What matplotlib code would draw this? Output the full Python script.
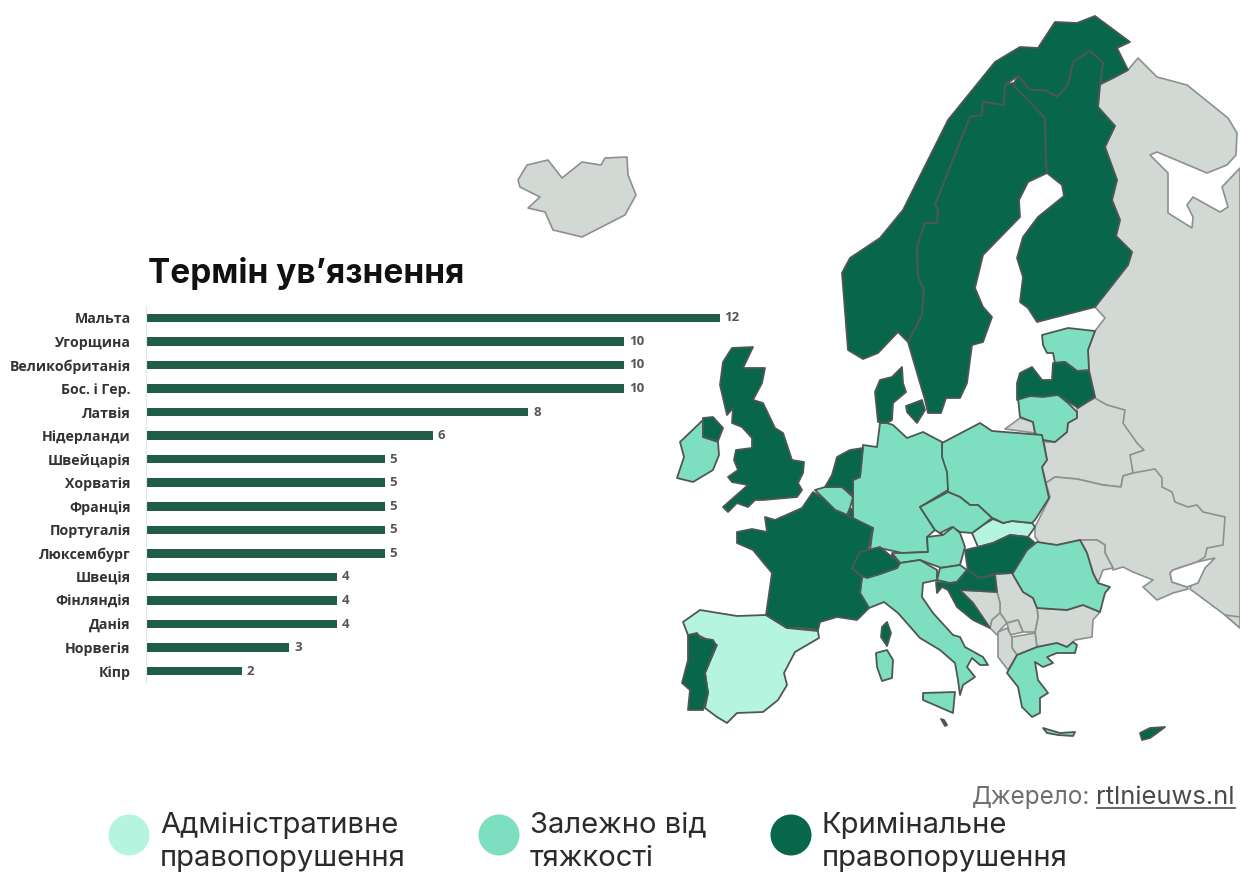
import matplotlib
matplotlib.use("Agg")
from matplotlib import pyplot as plt
from matplotlib.patches import Polygon, Circle

########################################################################################################################
# Bar data
countries = ["Мальта", "Угорщина", "Великобританія", "Бос. і Гер.", "Латвія", "Нідерланди", "Швейцарія", "Хорватія",
             "Франція", "Португалія", "Люксембург", "Швеція", "Фінляндія", "Данія", "Норвегія", "Кіпр"]
years = [12, 10, 10, 10, 8, 6, 5, 5, 5, 5, 5, 4, 4, 4, 3, 2]

########################################################################################################################
# Map outlines (pixels)
russia = [(1138,58),(1157,77),(1187,85),(1228,118),(1237,133),(1236,155),(1227,165),(1207,173),(1157,152),(1150,155),
          (1168,173),(1168,213),(1192,228),(1193,217),(1187,205),(1193,197),(1220,212),(1228,207),(1222,187),(1240,168),
          (1240,628),(1225,615),(1190,589),(1200,560),(1100,500),(1095,397),(1089,370),(1088,350),(1095,331),(1105,318),
          (1095,307),(1128,265),(1132,252),(1116,236),(1120,220),(1112,200),(1117,180),(1105,147),(1115,126),(1098,107),
          (1100,85),(1128,70)]
turkey = [(1225,615),(1240,617),(1240,628)]
belarus = [(1095,398),(1107,405),(1125,410),(1123,423),(1137,443),(1144,450),(1130,455),(1133,473),(1123,476),(1121,487),
           (1103,485),(1077,479),(1055,477),(1046,483),(1042,467),(1047,460),(1044,442),(1055,442),(1067,432),(1068,423),
           (1077,417),(1077,407)]
ukraine = [(1046,483),(1055,477),(1077,479),(1103,485),(1121,487),(1123,476),(1133,473),(1155,469),(1162,478),(1162,487),
           (1172,492),(1175,502),(1188,507),(1197,505),(1203,512),(1225,517),(1223,545),(1207,548),(1205,557),(1197,562),
           (1173,570),(1170,573),(1172,582),(1187,587),(1188,589),(1173,593),(1157,600),(1143,587),(1153,580),(1133,572),
           (1123,567),(1113,570),(1113,568),(1105,553),(1105,545),(1097,540),(1080,540),(1057,545),(1040,543),(1035,537),
           (1035,527),(1050,497)]
moldova = [(1080,540),(1097,540),(1105,545),(1105,553),(1113,568),(1103,570),(1098,583),(1093,573),(1087,553)]
azov = [(1170,573),(1172,582),(1187,587),(1198,583),(1205,568),(1215,558),(1197,562),(1173,570)]
kaliningrad = [(1005,429),(1020,418),(1033,422),(1035,433)]
bulgaria = [(1037,608),(1067,610),(1083,605),(1100,612),(1093,620),(1092,637),(1075,640),(1067,647),(1057,643),(1037,647),
            (1035,632),(1038,617)]
serbia = [(995,574),(1012,573),(1023,592),(1033,598),(1037,608),(1038,617),(1035,632),(1023,632),(1018,620),(1007,623),
          (1000,613),(1000,603),(997,592)]
bosnia = [(960,590),(997,592),(1000,603),(1000,613),(992,620),(990,628),(973,603)]
montenegro = [(992,620),(1000,613),(1007,623),(1000,630),(997,635),(990,628)]
kosovo = [(1007,623),(1018,620),(1023,632),(1010,635)]
macedonia = [(1012,637),(1035,633),(1037,647),(1017,655),(1012,648)]
albania = [(998,632),(1007,628),(1012,637),(1012,648),(1017,655),(1008,670),(998,657)]
iceland = [(518,180),(527,165),(548,160),(562,178),(582,162),(601,165),(605,158),(627,157),(628,175),(636,195),(625,215),
           (582,237),(553,230),(545,212),(528,208),(540,197),(520,187)]

spain = [(700,610),(737,616),(766,615),(787,628),(818,631),(819,638),(795,652),(784,673),(787,685),(778,700),(763,712),
         (737,713),(727,723),(717,717),(705,708),(708,693),(705,673),(717,645),(698,635),(688,635),(683,622)]
slovakia = [(972,533),(983,525),(993,519),(1003,523),(1012,521),(1032,523),(1035,527),(1028,537),(1010,535),(993,543),
            (978,547)]

estonia = [(1042,335),(1068,328),(1095,331),(1088,350),(1089,370),(1077,371),(1065,362),(1055,363),(1053,353),(1047,353),
           (1043,345)]
lithuania = [(1018,398),(1037,395),(1057,394),(1068,403),(1077,412),(1077,418),(1068,423),(1067,432),(1055,442),(1043,440),
             (1035,433),(1033,422),(1020,417)]
poland = [(942,443),(980,423),(992,431),(1042,435),(1047,460),(1042,467),(1049,498),(1035,520),(1032,523),(1012,521),
          (1003,523),(995,519),(992,518),(978,505),(970,505),(960,497),(948,492),(945,470),(942,457)]
germany = [(880,423),(887,423),(893,425),(907,438),(923,432),(942,442),(942,457),(947,472),(948,490),(920,507),(935,530),
           (927,537),(928,552),(902,553),(880,548),(870,550),(873,528),(853,520),(853,480),(860,477),(863,445),(877,447)]
belgium = [(815,490),(825,487),(842,487),(853,497),(850,508),(847,515),(835,510),(823,498)]
czechia = [(920,507),(948,492),(960,497),(970,505),(978,505),(992,518),(983,525),(972,533),(960,532),(952,527),(940,533),
           (943,535),(935,530)]
austria = [(892,553),(903,553),(928,552),(927,537),(943,535),(953,527),(960,533),(965,547),(960,565),(940,568),(947,570),
           (920,560),(900,563)]
slovenia = [(940,568),(960,565),(967,570),(957,582),(950,583),(937,580)]
italy = [(892,555),(900,563),(920,560),(937,570),(937,580),(923,583),(922,597),(933,613),(953,635),(960,637),(965,647),
         (983,657),(988,665),(980,665),(972,658),(967,667),(975,677),(963,685),(960,695),(958,680),(955,663),(940,650),
         (920,638),(898,613),(884,602),(869,608),(860,593),(862,577),(877,575),(897,568),(900,563)]
sardinia = [(876,653),(887,650),(893,660),(892,678),(882,681),(877,667)]
sicily = [(923,693),(955,692),(953,713),(923,700)]
ireland = [(703,420),(703,437),(718,442),(719,455),(713,470),(693,482),(677,478),(684,457),(680,442)]
romania = [(1012,573),(1027,550),(1037,542),(1057,545),(1080,540),(1087,553),(1093,573),(1098,583),(1110,587),(1105,593),
           (1100,612),(1083,605),(1067,610),(1037,608),(1033,598),(1023,592)]
greece = [(1017,655),(1037,647),(1057,643),(1067,647),(1073,642),(1077,645),(1075,653),(1057,653),(1047,657),(1053,663),
          (1043,667),(1035,662),(1038,680),(1048,693),(1040,698),(1040,713),(1032,717),(1022,707),(1018,687),(1007,673)]
crete = [(1043,728),(1060,733),(1075,732),(1073,736),(1058,735),(1047,733)]

norway = [(1095,16),(1130,42),(1117,48),(1128,70),(1113,78),(1100,84),(1103,63),(1090,51),(1073,62),(1068,85),(1057,97),
          (1045,90),(1030,90),(1018,76),(1005,85),(1004,105),(983,102),(982,115),(970,117),(935,205),(938,210),(937,223),
          (925,223),(917,247),(918,277),(924,290),(922,315),(908,342),(898,332),(878,353),(863,359),(848,350),(842,273),
          (850,258),(880,238),(903,210),(948,120),(995,62),(1020,47),(1038,48),(1055,22),(1077,23)]
sweden = [(1005,85),(1013,83),(1045,118),(1046,162),(1047,173),(1028,182),(1019,200),(1020,217),(983,255),(975,288),
          (983,307),(992,317),(983,342),(972,345),(967,383),(960,398),(946,398),(941,413),(928,413),(925,400),(908,342),
          (922,315),(924,290),(918,277),(917,247),(925,223),(937,223),(938,210),(935,205),(970,117),(982,115),(983,102),
          (1004,105)]
finland = [(1018,76),(1030,90),(1045,90),(1057,97),(1068,85),(1073,62),(1090,51),(1103,63),(1100,85),(1098,107),(1115,126),
           (1105,147),(1117,180),(1112,200),(1120,220),(1116,236),(1132,252),(1128,265),(1095,307),(1037,322),(1028,308),
           (1020,302),(1023,277),(1017,258),(1023,237),(1038,217),(1064,196),(1062,185),(1047,173),(1046,162),(1045,118),
           (1013,85)]
latvia = [(1017,400),(1017,383),(1020,373),(1032,367),(1042,380),(1052,380),(1053,363),(1065,362),(1077,371),(1089,371),
          (1095,397),(1078,408),(1058,395),(1043,397),(1030,396)]
jutland = [(902,367),(903,383),(906,392),(893,403),(892,420),(887,423),(878,422),(875,392),(880,380),(892,377)]
zealand = [(906,406),(922,400),(925,410),(917,423),(907,412)]
netherlands = [(863,448),(860,477),(853,480),(853,495),(842,487),(825,487),(832,475),(837,457),(850,450)]
luxembourg = [(850,508),(853,510),(853,520),(848,517)]
france = [(813,492),(823,498),(835,510),(847,515),(873,528),(868,550),(852,568),(862,577),(860,593),(869,608),(857,620),
          (837,617),(820,622),(818,630),(803,628),(787,628),(766,615),(772,573),(753,550),(737,543),(737,532),(752,529),
          (767,532),(765,517),(775,520),(802,508)]
corsica = [(887,622),(891,633),(887,646),(881,637),(882,627)]
switzerland = [(860,552),(880,547),(892,557),(900,563),(897,568),(877,575),(867,578),(860,575),(852,568)]
hungary = [(965,550),(978,547),(993,543),(1010,535),(1028,537),(1035,543),(1027,550),(1013,573),(995,574),(980,578),(968,572)]
croatia = [(967,570),(980,578),(995,575),(997,592),(960,590),(973,603),(990,628),(973,620),(957,607),(948,590),(942,587),
           (937,593),(936,582),(950,583),(957,582)]
portugal = [(688,635),(697,633),(700,638),(713,640),(716,645),(705,673),(708,693),(703,710),(688,710),(690,690),(682,683),
            (688,660)]
britain = [(732,348),(753,347),(743,368),(765,368),(762,383),(753,400),(763,403),(775,428),(783,433),(792,460),(804,462),
           (803,473),(798,483),(802,490),(797,497),(763,500),(755,500),(748,507),(737,503),(728,512),(723,507),(748,485),
           (732,482),(728,477),(738,470),(734,460),(736,450),(752,448),(752,438),(742,427),(732,423),(733,408),(727,415),
           (720,385),(723,362)]
north_ireland = [(703,418),(713,417),(723,428),(718,441),(703,437)]
cyprus = [(1140,733),(1150,728),(1165,727),(1157,733),(1150,738),(1142,740)]
malta = [(941,719),(944,720),(947,725),(945,726)]

no_data = [russia, turkey, belarus, ukraine, moldova, kaliningrad, bulgaria, serbia, bosnia, montenegro, kosovo, macedonia,
           albania, iceland]
administrative = [spain, slovakia]
depends = [estonia, lithuania, poland, germany, belgium, czechia, austria, slovenia, italy, sardinia, sicily, ireland,
           romania, greece, crete]
criminal = [norway, sweden, finland, latvia, jutland, zealand, netherlands, luxembourg, france, corsica, switzerland,
            hungary, croatia, portugal, britain, north_ireland, cyprus, malta]

legend_labels = ["Адміністративне\nправопорушення", "Залежно від\nтяжкості", "Кримінальне\nправопорушення"]

########################################################################################################################
# Colours
c_gray = "#D2D8D4"
c_light = "#B5F5E0"
c_mid = "#7DDFBF"
c_dark = "#08674A"
c_bar = "#1F5C4A"

fig = plt.figure(figsize=(12.4, 8.73), dpi=100, facecolor="white")

########################################################################################################################
# Map and legend, pixel coordinates
ax = fig.add_axes([0, 0, 1, 1])
ax.set_xlim(0, 1240)
ax.set_ylim(873, 0)
ax.axis("off")

for poly in no_data:
    ax.add_patch(Polygon(poly, closed=True, fc=c_gray, ec="#8C918E", lw=1.2, joinstyle="round"))
ax.add_patch(Polygon(azov, closed=True, fc="white", ec="#8C918E", lw=1.2))
for group, col in [(administrative, c_light), (depends, c_mid), (criminal, c_dark)]:
    for poly in group:
        ax.add_patch(Polygon(poly, closed=True, fc=col, ec="#4F5654", lw=1.3, joinstyle="round"))

for cx, col, tx, lab in zip([129, 499, 791], [c_light, c_mid, c_dark], [160, 530, 822], legend_labels):
    ax.add_patch(Circle((cx, 835), 20.5, fc=col, ec="none"))
    ax.text(tx, 842, lab, family="Inter", fontsize=21, color="#2B2B2B", ha="left", va="center", linespacing=1.31)

ax.text(972, 804, "Джерело:", family="Inter", fontsize=17.5, color="#6E6E6E", ha="left", va="baseline")
ax.text(1235, 804, "rtlnieuws.nl", family="Inter", fontsize=18.4, color="#4A4A4A", ha="right", va="baseline")
ax.plot([1097, 1235], [808, 808], color="#4A4A4A", lw=1.2)

ax.text(148, 273, "Термін ув’язнення", family="Inter", fontweight="bold", fontsize=24, color="#111111", ha="left", va="center")

########################################################################################################################
# Bars
ax2 = fig.add_axes([146/1240, 1 - 683/873, 600/1240, 377/873])
ax2.patch.set_alpha(0)
pos = list(range(len(countries)))
ax2.barh(pos, years, height=0.36, color=c_bar)
ax2.set_xlim(0, 600/47.8)
ax2.set_ylim(15.5, -0.5)
ax2.set_yticks(pos, countries, family="Open Sans", fontweight="bold", fontsize=10.2, color="#333333")
ax2.set_xticks([])
ax2.tick_params(axis="y", length=0, pad=11)
for s in ["top", "right", "bottom"]:
    ax2.spines[s].set_visible(False)
ax2.spines["left"].set_color("#E6E6E6")
for p, v in zip(pos, years):
    ax2.text(v + 0.1, p, str(v), family="Open Sans", fontweight="bold", fontsize=9.5, color="#555555", ha="left", va="center")

fig.savefig("out.png", dpi=100)
